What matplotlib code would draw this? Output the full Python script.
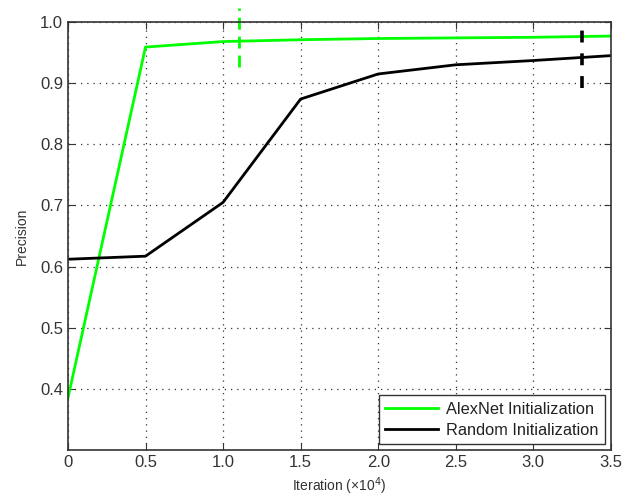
import matplotlib
matplotlib.use("Agg")
import matplotlib.pyplot as plt

iters = [0, 0.5, 1.0, 1.5, 2.0, 2.5, 3.0, 3.5]
alexnet = [0.385, 0.959, 0.968, 0.971, 0.973, 0.974, 0.975, 0.977]
random_init = [0.612, 0.617, 0.705, 0.874, 0.915, 0.930, 0.937, 0.945]

# dashed vertical marks (x position, y bottom, y top)
alex_mark = (1.1, 0.926, 1.023)
rand_mark = (3.314, 0.892, 0.99)

xticks = [0, 0.5, 1.0, 1.5, 2.0, 2.5, 3.0, 3.5]
xticklabels = ["0", "0.5", "1.0", "1.5", "2.0", "2.5", "3.0", "3.5"]
yticks = [0.4, 0.5, 0.6, 0.7, 0.8, 0.9, 1.0]

plt.rcParams['font.family'] = ['Liberation Sans', 'DejaVu Sans']

fig = plt.figure(figsize=(6.35, 5.0), dpi=100)
ax = fig.add_axes([0.107, 0.1, 0.855, 0.856])

ax.plot(iters, alexnet, color='#00ff00', lw=2, label='AlexNet Initialization')
ax.plot(iters, random_init, color='black', lw=2, label='Random Initialization')

ax.plot([alex_mark[0]] * 2, alex_mark[1:], color='#00ff00', lw=2,
        ls=(0, (4.3, 2.5)), clip_on=False)
ax.plot([rand_mark[0]] * 2, rand_mark[1:], color='black', lw=2.6,
        ls=(0, (3.3, 3.0)), clip_on=False)

ax.set_xlim(0, 3.5)
ax.set_ylim(0.3, 1.0)
ax.set_xticks(xticks)
ax.set_xticklabels(xticklabels)
ax.set_yticks(yticks)
ax.yaxis.set_major_formatter(matplotlib.ticker.FormatStrFormatter('%.1f'))
ax.tick_params(direction='in', top=True, right=True, labelsize=12,
               colors='#333333', labelcolor='#333333', length=5)
ax.grid(True, ls=(0, (1, 4)), color='#333333', lw=0.9)
for s in ax.spines.values():
    s.set_color('#333333')
    s.set_linewidth(1.2)

ax.set_xlabel('Iteration (\u00d710$^4$)', fontsize=10, color='#333333')
ax.set_ylabel('Precision', fontsize=10, color='#333333', labelpad=8)

leg = ax.legend(loc='lower right', fontsize=11.8, fancybox=False,
                framealpha=1, edgecolor='#333333', borderaxespad=0.35,
                handlelength=3.2, borderpad=0.4, labelspacing=0.35,
                handletextpad=0.5)
leg.get_frame().set_linewidth(1.0)
for t in leg.get_texts():
    t.set_color('#222222')

fig.savefig('out.png', dpi=100)
